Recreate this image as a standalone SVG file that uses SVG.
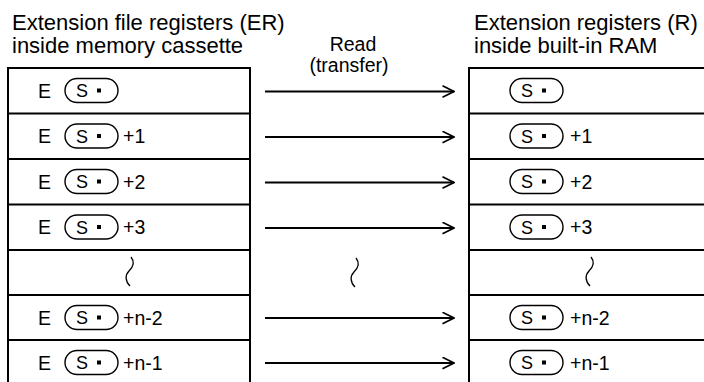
<svg xmlns="http://www.w3.org/2000/svg" width="704" height="382" viewBox="0 0 704 382">
<defs>
<style>
.hdr{font-family:"Liberation Sans",Arial,sans-serif;font-size:22px;fill:#000}
.mid{font-family:"Liberation Sans",Arial,sans-serif;font-size:19.5px;fill:#000;text-anchor:middle}
.t{font-family:"Liberation Sans",Arial,sans-serif;font-size:19.5px;fill:#000}
.s{font-family:"Liberation Sans",Arial,sans-serif;font-size:18px;fill:#000;text-anchor:middle}
.box{fill:none;stroke:#000;stroke-width:2}
.ov{fill:none;stroke:#000;stroke-width:1.4}
.arr{fill:none;stroke:#000;stroke-width:2}
.wv{fill:none;stroke:#000;stroke-width:1.3}
</style>
<marker id="ah" viewBox="0 0 13 13" refX="12" refY="6.5" markerWidth="13" markerHeight="13" markerUnits="userSpaceOnUse" orient="auto">
<path d="M0.5,0.8 L12,6.5 L0.5,12.2" fill="none" stroke="#000" stroke-width="1.7"/>
</marker>
<g id="op">
<rect x="-26.5" y="-12" width="53" height="24" rx="12" ry="12" class="ov"/>
<text x="-9.5" y="6.5" class="s">S</text>
<rect x="5.5" y="-2" width="4" height="4" fill="#000"/>
</g>
</defs>
<g id="headers">
<text x="12" y="30" class="hdr">Extension file registers (ER)</text>
<text x="12" y="53" class="hdr">inside memory cassette</text>
<text x="474" y="30" class="hdr">Extension registers (R)</text>
<text x="474" y="53" class="hdr">inside built-in RAM</text>
<text x="353" y="51" class="mid">Read</text>
<text x="349" y="72" class="mid">(transfer)</text>
</g>
<g id="left-box">
<rect x="8" y="68" width="242" height="330" class="box"/>
<path d="M8,113.5H250M8,159H250M8,204.5H250M8,250H250M8,295H250M8,340H250" class="box"/>
<text x="38" y="97.5" class="t">E</text><use href="#op" x="91.5" y="90.5"/>
<text x="38" y="143" class="t">E</text><use href="#op" x="91.5" y="136"/><text x="123" y="143" class="t">+1</text>
<text x="38" y="188.5" class="t">E</text><use href="#op" x="91.5" y="181.5"/><text x="123" y="188.5" class="t">+2</text>
<text x="38" y="234" class="t">E</text><use href="#op" x="91.5" y="227"/><text x="123" y="234" class="t">+3</text>
<path d="M131,257 C135,262 133,267 129,271 C125,275 125,281 130,286" class="wv"/>
<text x="38" y="324.5" class="t">E</text><use href="#op" x="91.5" y="317.5"/><text x="123" y="324.5" class="t">+n-2</text>
<text x="38" y="369.5" class="t">E</text><use href="#op" x="91.5" y="362.5"/><text x="123" y="369.5" class="t">+n-1</text>
</g>
<g id="right-box">
<rect x="469" y="68" width="250" height="330" class="box"/>
<path d="M469,113.5H710M469,159H710M469,204.5H710M469,250H710M469,295H710M469,340H710" class="box"/>
<use href="#op" x="536.5" y="90.5"/>
<use href="#op" x="536.5" y="136"/><text x="570" y="143" class="t">+1</text>
<use href="#op" x="536.5" y="181.5"/><text x="570" y="188.5" class="t">+2</text>
<use href="#op" x="536.5" y="227"/><text x="570" y="234" class="t">+3</text>
<path d="M591,257 C595,262 593,267 589,271 C585,275 585,281 590,286" class="wv"/>
<use href="#op" x="536.5" y="317.5"/><text x="570" y="324.5" class="t">+n-2</text>
<use href="#op" x="536.5" y="362.5"/><text x="570" y="369.5" class="t">+n-1</text>
</g>
<g id="connectors">
<path d="M265,91.5H454" class="arr" marker-end="url(#ah)"/>
<path d="M265,137H454" class="arr" marker-end="url(#ah)"/>
<path d="M265,182.5H454" class="arr" marker-end="url(#ah)"/>
<path d="M265,228H454" class="arr" marker-end="url(#ah)"/>
<path d="M356,258 C360,263 358,268 354,272 C350,276 350,282 355,287" class="wv"/>
<path d="M265,318H454" class="arr" marker-end="url(#ah)"/>
<path d="M265,363H454" class="arr" marker-end="url(#ah)"/>
</g>
</svg>
